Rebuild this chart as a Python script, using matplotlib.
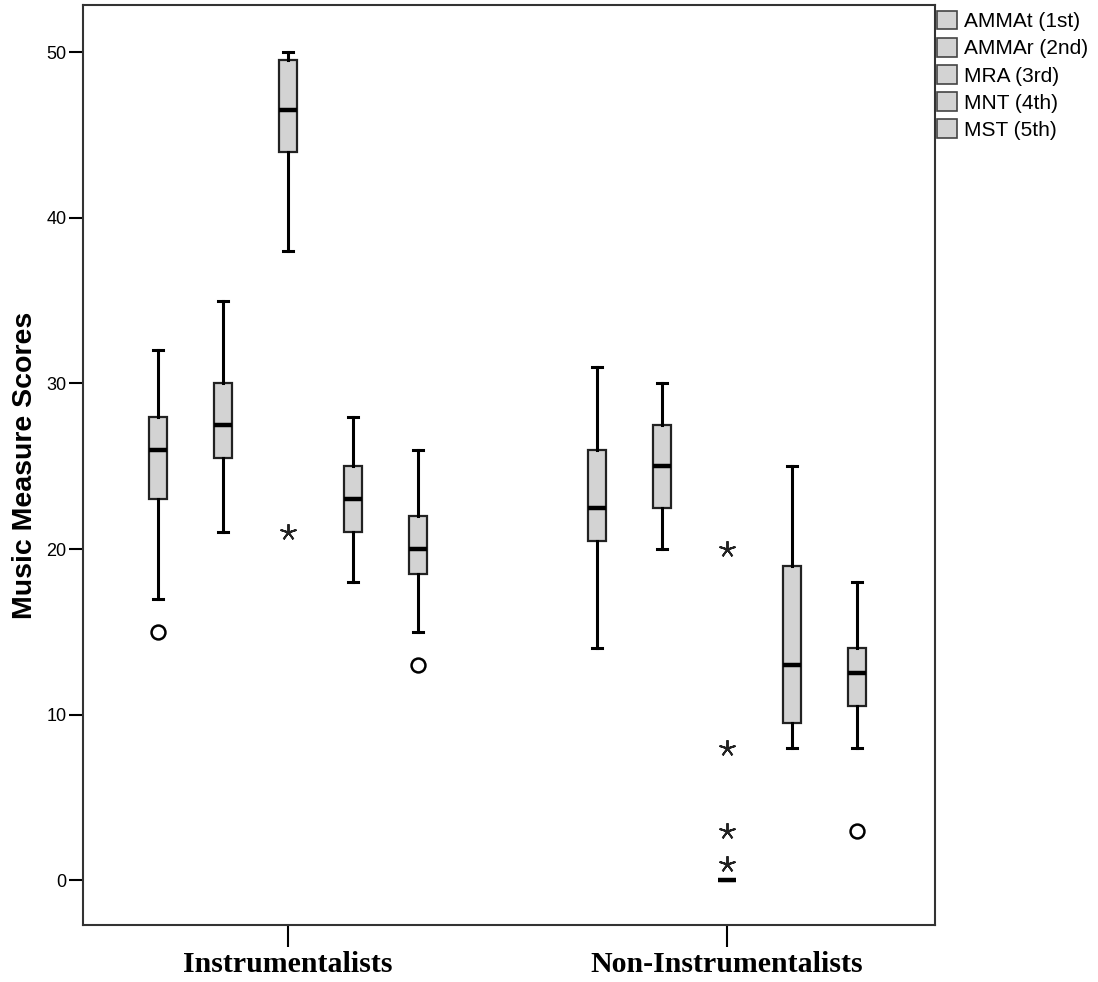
import matplotlib
matplotlib.use("Agg")
import matplotlib.pyplot as plt
from matplotlib.patches import Patch

# groups and measures
groups = ["Instrumentalists", "Non-Instrumentalists"]
measures = ["AMMAt (1st)", "AMMAr (2nd)", "MRA (3rd)", "MNT (4th)", "MST (5th)"]

# five-number summaries per group: (whislo, q1, med, q3, whishi)
instr_stats = [
    (17, 23, 26, 28, 32),
    (21, 25.5, 27.5, 30, 35),
    (38, 44, 46.5, 49.5, 50),
    (18, 21, 23, 25, 28),
    (15, 18.5, 20, 22, 26),
]
noninstr_stats = [
    (14, 20.5, 22.5, 26, 31),
    (20, 22.5, 25, 27.5, 30),
    (0, 0, 0, 0, 0),
    (8, 9.5, 13, 19, 25),
    (8, 10.5, 12.5, 14, 18),
]

# outliers (circles) and extremes (stars): (group, measure, value)
outliers = [(0, 0, 15), (0, 4, 13), (1, 4, 3)]
extremes = [(0, 2, 21), (1, 2, 20), (1, 2, 8), (1, 2, 3), (1, 2, 1)]

offsets = [-0.296, -0.148, 0.0, 0.148, 0.296]
box_w = 0.042
fill = "#d3d3d3"

fig = plt.figure(figsize=(10.98, 9.82), dpi=100)
ax = fig.add_axes([0.0756, 0.058, 0.776, 0.937])

stats, positions = [], []
for g, group_stats in enumerate([instr_stats, noninstr_stats]):
    for m, (lo, q1, med, q3, hi) in enumerate(group_stats):
        stats.append(dict(whislo=lo, q1=q1, med=med, q3=q3, whishi=hi, fliers=[]))
        positions.append(g + offsets[m])

ax.bxp(stats, positions=positions, widths=box_w, capwidths=box_w * 0.5,
       patch_artist=True, showfliers=False,
       boxprops=dict(facecolor=fill, edgecolor="#222222", linewidth=1.6),
       medianprops=dict(color="black", linewidth=3.2),
       whiskerprops=dict(color="black", linewidth=2.2),
       capprops=dict(color="black", linewidth=2.2))

for g, m, v in outliers:
    ax.plot(g + offsets[m], v, marker="o", markersize=10, markerfacecolor="white",
            markeredgecolor="black", markeredgewidth=1.8, linestyle="none")
for g, m, v in extremes:
    ax.plot(g + offsets[m], v, marker=(5, 2, 0), markersize=12, color="#222222",
            markeredgewidth=1.4, linestyle="none")

ax.set_xlim(-0.467, 1.474)
ax.set_ylim(-2.7, 52.85)
ax.set_yticks([0, 10, 20, 30, 40, 50])
ax.set_xticks([0, 1])
ax.set_xticklabels(groups, family="Liberation Serif", fontweight="bold", fontsize=21.5)
ax.tick_params(axis="y", labelsize=13, length=10, width=1.5, direction="out", pad=2)
ax.tick_params(axis="x", length=16, width=1.5, direction="out", pad=3)
for lab in ax.get_yticklabels():
    lab.set_family("Liberation Sans")
ax.set_ylabel("Music Measure Scores", family="Liberation Sans", fontweight="bold",
              fontsize=20.5, labelpad=6)
for sp in ax.spines.values():
    sp.set_linewidth(1.5)
    sp.set_color("#333333")

handles = [Patch(facecolor=fill, edgecolor="#444444", linewidth=1.2) for _ in measures]
leg = fig.legend(handles, measures, loc="upper left", bbox_to_anchor=(0.853, 0.989),
                 frameon=False, prop=dict(family="Liberation Sans", size=15),
                 handlelength=1.0, handleheight=1.0, handletextpad=0.3,
                 labelspacing=0.32, borderpad=0, borderaxespad=0)

fig.savefig("out.png", dpi=100)
